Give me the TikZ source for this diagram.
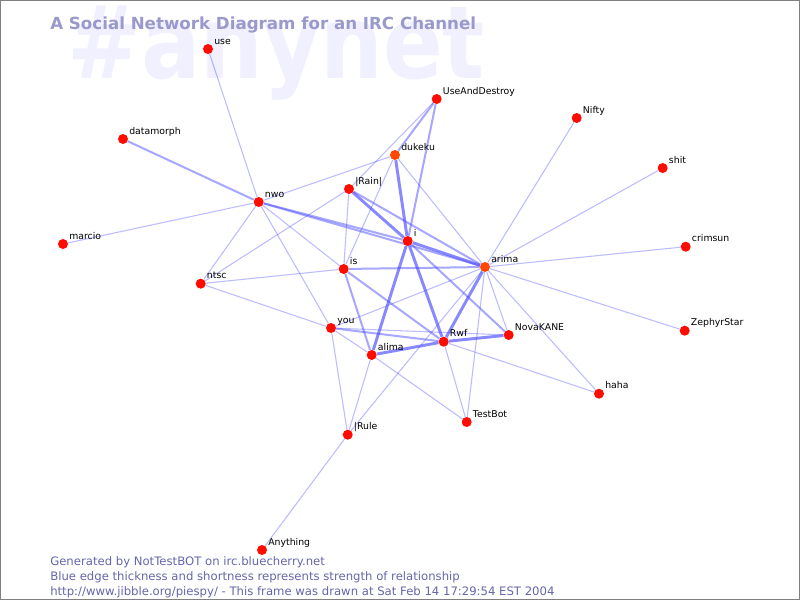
\documentclass[tikz,border=0pt]{standalone}
\usepackage{fontspec}
\setmainfont{DejaVu Sans}
\usetikzlibrary{backgrounds}
\definecolor{edgeblue}{RGB}{80,80,255}
\definecolor{nodered}{RGB}{255,12,0}
\definecolor{nodeorange}{RGB}{255,72,0}
\definecolor{titlec}{RGB}{153,153,204}
\definecolor{wmark}{RGB}{240,240,255}
\definecolor{footc}{RGB}{102,102,170}
\definecolor{framec}{RGB}{128,128,128}
\begin{document}
\begin{tikzpicture}[x=0.75pt,y=-0.75pt,
  dot/.style={circle,inner sep=0pt,minimum size=7.5pt,fill=nodered},
  odot/.style={dot,fill=nodeorange},
  lbl/.style={anchor=base west,inner sep=0pt,font=\fontsize{7}{8}\selectfont,text=black},
  ethin/.style={draw=edgeblue,draw opacity=0.38,line width=0.8pt},
  emed/.style={draw=edgeblue,draw opacity=0.5,line width=1.5pt},
  ethick/.style={draw=edgeblue,draw opacity=0.68,line width=2.2pt},
  foot/.style={anchor=base west,inner sep=0pt,text=footc,font=\fontsize{8.75}{10}\selectfont},
]
\useasboundingbox (0,0) rectangle (800,600);

% nodes
\node[dot] (use) at (208,49) {};
\node[dot] (uad) at (436.7,99) {};
\node[dot] (nifty) at (576.7,118) {};
\node[dot] (datamorph) at (123,139) {};
\node[odot] (dukeku) at (395,155) {};
\node[dot] (shit) at (662.7,168) {};
\node[dot] (rain) at (349,189) {};
\node[dot] (nwo) at (258.7,202) {};
\node[dot] (i) at (407.7,241) {};
\node[dot] (crimsun) at (685.7,246.7) {};
\node[dot] (marcio) at (63,244) {};
\node[odot] (arima) at (485,267) {};
\node[dot] (is) at (343.7,269) {};
\node[dot] (ntsc) at (200.7,283.7) {};
\node[dot] (you) at (331,328) {};
\node[dot] (zephyr) at (684.7,330.7) {};
\node[dot] (nova) at (508.7,335) {};
\node[dot] (rwf) at (443.7,341.7) {};
\node[dot] (alima) at (371.7,355) {};
\node[dot] (haha) at (599,393.7) {};
\node[dot] (testbot) at (466.7,422) {};
\node[dot] (rule) at (347.7,434.7) {};
\node[dot] (anything) at (262,550) {};

% labels
\node[lbl] (use-l) at ([shift={(6,-5)}]use.center) {use};
\node[lbl] (uad-l) at ([shift={(6,-5)}]uad.center) {UseAndDestroy};
\node[lbl] (nifty-l) at ([shift={(6,-5)}]nifty.center) {Nifty};
\node[lbl] (datamorph-l) at ([shift={(6,-5)}]datamorph.center) {datamorph};
\node[lbl] (dukeku-l) at ([shift={(6,-5)}]dukeku.center) {dukeku};
\node[lbl] (shit-l) at ([shift={(6,-5)}]shit.center) {shit};
\node[lbl] (rain-l) at ([shift={(6,-5)}]rain.center) {|Rain|};
\node[lbl] (nwo-l) at ([shift={(6,-5)}]nwo.center) {nwo};
\node[lbl] (i-l) at ([shift={(6,-5)}]i.center) {i};
\node[lbl] (crimsun-l) at ([shift={(6,-5)}]crimsun.center) {crimsun};
\node[lbl] (marcio-l) at ([shift={(6,-5)}]marcio.center) {marcio};
\node[lbl] (arima-l) at ([shift={(6,-5)}]arima.center) {arima};
\node[lbl] (is-l) at ([shift={(6,-5)}]is.center) {is};
\node[lbl] (ntsc-l) at ([shift={(6,-5)}]ntsc.center) {ntsc};
\node[lbl] (you-l) at ([shift={(6,-5)}]you.center) {you};
\node[lbl] (zephyr-l) at ([shift={(6,-5)}]zephyr.center) {ZephyrStar};
\node[lbl] (nova-l) at ([shift={(6,-5)}]nova.center) {NovaKANE};
\node[lbl] (rwf-l) at ([shift={(6,-5)}]rwf.center) {Rwf};
\node[lbl] (alima-l) at ([shift={(6,-5)}]alima.center) {alima};
\node[lbl] (haha-l) at ([shift={(6,-5)}]haha.center) {haha};
\node[lbl] (testbot-l) at ([shift={(6,-5)}]testbot.center) {TestBot};
\node[lbl] (rule-l) at ([shift={(6,-5)}]rule.center) {|Rule};
\node[lbl] (anything-l) at ([shift={(6,-5)}]anything.center) {Anything};

\begin{scope}[on background layer]
\fill[white] (0,0) rectangle (800,600);
\node[anchor=base west,inner sep=0pt,text=wmark,font=\fontsize{66}{66}\selectfont\bfseries] (wm) at (67,78) {\scalebox{1}[1.15]{\#anynet}};
% edges
\draw[ethin] (use) -- (nwo);
\draw[emed] (datamorph) -- (nwo);
\draw[ethin] (marcio) -- (nwo);
\draw[ethin] (nwo) -- (dukeku);
\draw[emed] (nwo) -- (i);
\draw[emed] (nwo) -- (arima);
\draw[ethin] (nwo) -- (ntsc);
\draw[ethin] (nwo) -- (is);
\draw[ethin] (nwo) -- (you);
\draw[ethin] (uad) -- (rain);
\draw[emed] (uad) -- (dukeku);
\draw[emed] (uad) -- (i);
\draw[ethick] (dukeku) -- (i);
\draw[ethin] (dukeku) -- (is);
\draw[ethin] (dukeku) -- (arima);
\draw[ethick] (rain) -- (i);
\draw[emed] (rain) -- (arima);
\draw[ethin] (rain) -- (is);
\draw[ethin] (ntsc) -- (rain);
\draw[ethin] (ntsc) -- (is);
\draw[ethin] (ntsc) -- (you);
\draw[ethick] (i) -- (arima);
\draw[ethick] (i) -- (alima);
\draw[ethick] (i) -- (rwf);
\draw[emed] (i) -- (nova);
\draw[emed] (is) -- (arima);
\draw[emed] (is) -- (rwf);
\draw[emed] (is) -- (alima);
\draw[ethin] (arima) -- (nifty);
\draw[ethin] (arima) -- (shit);
\draw[ethin] (arima) -- (crimsun);
\draw[ethin] (arima) -- (zephyr);
\draw[ethin] (arima) -- (haha);
\draw[ethin] (arima) -- (nova);
\draw[ethick] (arima) -- (rwf);
\draw[ethin] (arima) -- (testbot);
\draw[ethin] (arima) -- (you);
\draw[ethin] (arima) -- (rule);
\draw[ethick] (rwf) -- (nova);
\draw[ethick] (rwf) -- (alima);
\draw[emed] (rwf) -- (you);
\draw[ethin] (rwf) -- (testbot);
\draw[ethin] (rwf) -- (haha);
\draw[ethin] (you) -- (nova);
\draw[ethin] (you) -- (alima);
\draw[ethin] (you) -- (rule);
\draw[ethin] (alima) -- (rule);
\draw[ethin] (alima) -- (testbot);
\draw[ethin] (rule) -- (anything);
\end{scope}

% title
\node[anchor=base west,inner sep=0pt,text=titlec,font=\fontsize{12.5}{14}\selectfont\bfseries] (title) at (50,29) {A Social Network Diagram for an IRC Channel};

% footer
\node[foot] (f1) at (50,565) {Generated by NotTestBOT on irc.bluecherry.net};
\node[foot] (f2) at (50,580) {Blue edge thickness and shortness represents strength of relationship};
\node[foot] (f3) at (50,595) {http://www.jibble.org/piespy/ - This frame was drawn at Sat Feb 14 17:29:54 EST 2004};

\draw[framec,line width=0.75pt] (0.5,0.5) rectangle (799.5,599.5);
\end{tikzpicture}
\end{document}
